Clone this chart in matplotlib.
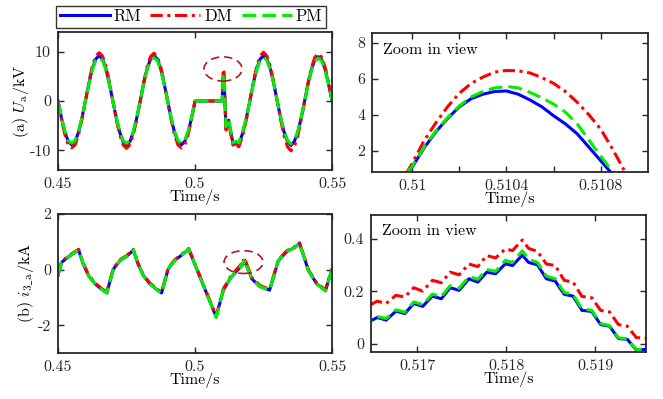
import numpy as np
import matplotlib
matplotlib.use('Agg')
import matplotlib.pyplot as plt
from matplotlib.patches import Ellipse
from matplotlib.lines import Line2D

plt.rcParams['font.family'] = ['cmr10', 'DejaVu Serif']
plt.rcParams['mathtext.fontset'] = 'cm'
plt.rcParams['axes.unicode_minus'] = False
plt.rcParams['axes.formatter.use_mathtext'] = True

# ---------------- voltage U_a (kV) ----------------
# before the fault, sampled every 1.25 ms
t_pre = np.linspace(0.45, 0.50, 41)
u_rm_pre = [0, -3.4, -6.3, -8.2, -8.9, -8.2, -6.3, -3.4, 0,
            3.5, 6.5, 8.5, 9.2, 8.5, 6.5, 3.5, 0,
            -3.4, -6.3, -8.2, -9.0, -8.2, -6.3, -3.4, 0,
            3.5, 6.5, 8.5, 9.2, 8.5, 6.5, 3.5, 0,
            -3.4, -6.3, -8.2, -8.9, -8.2, -6.3, -3.4, 0]
u_dm_pre = [0, -3.7, -6.8, -8.9, -9.5, -8.9, -6.8, -3.7, 0,
            3.8, 7.0, 9.1, 9.8, 9.1, 7.0, 3.8, 0,
            -3.7, -6.8, -8.9, -9.6, -8.9, -6.8, -3.7, 0,
            3.8, 6.9, 9.0, 9.7, 9.0, 6.9, 3.8, 0,
            -3.7, -6.8, -8.9, -9.5, -8.9, -6.8, -3.7, 0]
u_pm_pre = [0, -3.3, -6.1, -8.0, -8.6, -8.0, -6.1, -3.3, 0,
            3.4, 6.3, 8.2, 8.8, 8.2, 6.3, 3.4, 0,
            -3.3, -6.1, -8.0, -8.6, -8.0, -6.1, -3.3, 0,
            3.4, 6.3, 8.2, 8.8, 8.2, 6.3, 3.4, 0,
            -3.3, -6.1, -8.0, -8.6, -8.0, -6.1, -3.3, 0]

# reclosing spike
t_spk = [0.50995, 0.50998, 0.51000, 0.51005, 0.51010, 0.51015, 0.51020,
         0.51025, 0.51030, 0.51035, 0.51040, 0.51045, 0.51050, 0.51055,
         0.51060, 0.51065, 0.51070, 0.51075, 0.51080, 0.51085, 0.51090,
         0.51095]
u_rm_spk = [0, 0.75, 1.1, 2.15, 3.05, 3.8, 4.45, 4.9, 5.15, 5.3, 5.33, 5.15,
            4.83, 4.45, 3.95, 3.5, 2.95, 2.2, 1.45, 0.7, -0.1, -0.9]
u_dm_spk = [0, 0.85, 1.3, 2.55, 3.55, 4.45, 5.2, 5.75, 6.1, 6.38, 6.47, 6.45,
            6.33, 6.07, 5.75, 5.3, 4.7, 4.0, 3.2, 2.1, 0.9, -0.3]
u_pm_spk = [0, 0.8, 1.15, 2.2, 3.1, 3.85, 4.5, 5.0, 5.3, 5.5, 5.58, 5.5,
            5.25, 4.95, 4.6, 4.15, 3.5, 2.6, 1.7, 0.85, -0.05, -0.85]

# after the spike
t_post = np.concatenate([[0.5113, 0.5123, 0.5130, 0.5140, 0.5150, 0.5160],
                         np.linspace(0.5175, 0.55, 27)])
u_rm_post = [-5.5, -3.9, -6.2, -8.9, -8.4, -8.8,
             -6.3, -3.4, 0, 3.5, 6.5, 8.5, 9.2, 8.5, 6.5, 3.5, 0,
             -3.4, -6.3, -8.2, -9.0, -8.2, -6.3, -3.4, 0,
             3.5, 6.4, 8.4, 9.0, 8.4, 6.4, 3.4, 0]
u_dm_post = [-5.9, -4.2, -6.6, -9.3, -8.8, -9.3,
             -6.8, -3.7, 0, 3.8, 7.0, 9.1, 9.9, 9.1, 7.0, 3.8, 0,
             -3.8, -7.1, -9.3, -10.1, -9.3, -7.1, -3.8, 0,
             3.7, 6.8, 8.9, 9.6, 8.9, 6.8, 3.7, 0]
u_pm_post = [-5.2, -3.6, -6.0, -8.5, -8.2, -8.5,
             -6.0, -3.3, 0, 3.4, 6.3, 8.2, 8.9, 8.2, 6.3, 3.4, 0,
             -3.3, -6.2, -8.0, -8.7, -8.0, -6.2, -3.3, 0,
             3.3, 6.2, 8.1, 8.7, 8.1, 6.2, 3.3, 0]

# ---------------- current i_3_a (kA) ----------------
t_ia = [0.4500, 0.4513, 0.4538, 0.4562, 0.4575, 0.4592, 0.4611, 0.4635,
        0.4658, 0.4678, 0.4702, 0.4726, 0.4751, 0.4775, 0.4792, 0.4811,
        0.4835, 0.4858, 0.4878, 0.4902, 0.4926, 0.4951, 0.4977, 0.5077,
        0.5103, 0.5128, 0.5152]
i_rm_a = [-0.21, 0.26, 0.46, 0.62, 0.70, 0.20, -0.21, -0.51, -0.70, -0.84,
          0.02, 0.32, 0.48, 0.70, 0.20, -0.21, -0.51, -0.70, -0.84, 0.02,
          0.33, 0.52, 0.73, -1.70, -0.75, -0.33, -0.05]
i_dm_a = [-0.18, 0.29, 0.49, 0.65, 0.73, 0.23, -0.18, -0.48, -0.67, -0.81,
          0.05, 0.35, 0.51, 0.73, 0.23, -0.18, -0.48, -0.67, -0.81, 0.05,
          0.36, 0.55, 0.76, -1.67, -0.70, -0.28, 0.01]
i_pm_a = [-0.21, 0.26, 0.46, 0.63, 0.71, 0.21, -0.21, -0.51, -0.70, -0.85,
          0.02, 0.32, 0.48, 0.71, 0.21, -0.21, -0.51, -0.70, -0.85, 0.02,
          0.33, 0.52, 0.74, -1.72, -0.75, -0.33, -0.05]

# switching ripple around the small peak
t_iz = [0.51645, 0.51655, 0.51665, 0.51676, 0.51686, 0.51696, 0.51706,
        0.51717, 0.51727, 0.51737, 0.51747, 0.51758, 0.51768, 0.51778,
        0.51788, 0.51799, 0.51807, 0.51818, 0.51825, 0.51835, 0.51845,
        0.51855, 0.51865, 0.51875, 0.51885, 0.51896, 0.51906, 0.51916,
        0.51926, 0.51936, 0.51946, 0.51958, 0.51968]
i_rm_z = [0.083, 0.101, 0.091, 0.125, 0.116, 0.154, 0.143, 0.182, 0.172,
          0.214, 0.204, 0.248, 0.235, 0.273, 0.267, 0.305, 0.298, 0.338,
          0.310, 0.301, 0.248, 0.239, 0.189, 0.182, 0.128, 0.124, 0.074,
          0.068, 0.021, 0.018, -0.022, -0.020, -0.045]
i_dm_z = [0.145, 0.163, 0.154, 0.185, 0.179, 0.214, 0.201, 0.242, 0.233,
          0.273, 0.263, 0.304, 0.294, 0.336, 0.327, 0.361, 0.355, 0.395,
          0.363, 0.352, 0.304, 0.298, 0.242, 0.235, 0.181, 0.176, 0.128,
          0.122, 0.074, 0.068, 0.025, 0.021, 0.000]
i_pm_z = [0.085, 0.105, 0.097, 0.130, 0.121, 0.160, 0.150, 0.190, 0.180,
          0.222, 0.212, 0.256, 0.246, 0.283, 0.276, 0.318, 0.310, 0.354,
          0.322, 0.310, 0.258, 0.248, 0.196, 0.188, 0.134, 0.128, 0.078,
          0.070, 0.024, 0.019, -0.020, -0.020, -0.045]

t_ib = [0.5207, 0.5237, 0.5272, 0.5304, 0.5335, 0.5365, 0.5381, 0.5398,
        0.5414, 0.5444, 0.5476, 0.5493, 0.5500]
i_rm_b = [-0.33, -0.61, -0.74, 0.32, 0.65, 0.80, 0.94, 0.45, -0.04, -0.51,
          -0.76, -0.21, 0.0]
i_dm_b = [-0.28, -0.57, -0.71, 0.35, 0.68, 0.83, 0.97, 0.48, -0.01, -0.48,
          -0.73, -0.18, 0.03]
i_pm_b = [-0.33, -0.61, -0.74, 0.32, 0.65, 0.80, 0.95, 0.45, -0.04, -0.51,
          -0.77, -0.21, 0.0]

t_u = np.concatenate([t_pre, t_spk, t_post])
u = {'RM': np.concatenate([u_rm_pre, u_rm_spk, u_rm_post]),
     'DM': np.concatenate([u_dm_pre, u_dm_spk, u_dm_post]),
     'PM': np.concatenate([u_pm_pre, u_pm_spk, u_pm_post])}
t_i = np.concatenate([t_ia, t_iz, t_ib])
cur = {'RM': np.concatenate([i_rm_a, i_rm_z, i_rm_b]),
       'DM': np.concatenate([i_dm_a, i_dm_z, i_dm_b]),
       'PM': np.concatenate([i_pm_a, i_pm_z, i_pm_b])}

styles = {'RM': dict(color='#0000FF', ls='-'),
          'DM': dict(color='#FF0000', ls=(0, (4, 1.5, 1, 1.5))),
          'PM': dict(color='#00EE00', ls=(0, (4.5, 2)))}
LW = 2.2
FS = 11.5
dark = '#262626'

fig = plt.figure(figsize=(6.63, 3.99), dpi=100)
ax1 = fig.add_axes([0.0875, 0.5739, 0.4133, 0.3459])
ax2 = fig.add_axes([0.5611, 0.5689, 0.4163, 0.3484])
ax3 = fig.add_axes([0.0875, 0.1153, 0.4133, 0.3484])
ax4 = fig.add_axes([0.5596, 0.1178, 0.4148, 0.3434])

for ax in (ax1, ax2):
    for k in ('RM', 'DM', 'PM'):
        ax.plot(t_u, u[k], lw=LW, **styles[k])
for ax in (ax3, ax4):
    for k in ('RM', 'DM', 'PM'):
        ax.plot(t_i, cur[k], lw=LW, **styles[k])

for ax in (ax1, ax2, ax3, ax4):
    ax.tick_params(direction='in', top=True, right=True, length=4,
                   width=1.0, colors=dark, labelsize=FS, pad=5)
    ax.tick_params(which='minor', direction='in', top=True, right=True,
                   length=4, width=1.0, colors=dark)
    for s in ax.spines.values():
        s.set_linewidth(1.3)
        s.set_color(dark)
    ax.set_xlabel('Time/s', fontsize=FS, color='black', labelpad=-1)

ax1.set_xlim(0.45, 0.55)
ax1.set_ylim(-14, 14)
ax1.set_xticks([0.45, 0.5, 0.55], ['0.45', '0.5', '0.55'])
ax1.set_yticks([-10, 0, 10], ['-10', '0', '10'])
ax1.set_ylabel(r'(a) $U_\mathrm{a}$/kV', fontsize=FS, labelpad=-1)

ax2.set_xlim(0.50983, 0.51100)
ax2.set_ylim(0.83, 8.55)
ax2.set_xticks([0.51, 0.5104, 0.5108], ['0.51', '0.5104', '0.5108'])
ax2.set_xticks([0.5102, 0.5106], minor=True)
ax2.set_yticks([2, 4, 6, 8], ['2', '4', '6', '8'])

ax3.set_xlim(0.45, 0.55)
ax3.set_ylim(-3, 2)
ax3.set_xticks([0.45, 0.5, 0.55], ['0.45', '0.5', '0.55'])
ax3.set_yticks([-2, 0, 2], ['-2', '0', '2'])
ax3.set_ylabel(r'(b) $i_{3\_\mathrm{a}}$/kA', fontsize=FS, labelpad=1)

ax4.set_xlim(0.51648, 0.51957)
ax4.set_ylim(-0.03, 0.49)
ax4.set_xticks([0.517, 0.518, 0.519], ['0.517', '0.518', '0.519'])
ax4.set_yticks([0, 0.2, 0.4], ['0', '0.2', '0.4'])

for ax in (ax2, ax4):
    ax.text(0.04, 0.88, 'Zoom in view', transform=ax.transAxes,
            fontsize=11.5, va='center', ha='left')

# circles marking the zoomed regions
ax1.add_patch(Ellipse((0.5102, 6.5), 0.0139, 4.9, fill=False,
                      edgecolor='#B81420', ls=(0, (5, 3)), lw=1.2, zorder=5))
ax3.add_patch(Ellipse((0.5177, 0.27), 0.0142, 0.82, fill=False,
                      edgecolor='#B81420', ls=(0, (5, 3)), lw=1.2, zorder=5))

handles = [Line2D([], [], lw=LW, **styles[k]) for k in ('RM', 'DM', 'PM')]
leg = fig.legend(handles, ['RM', 'DM', 'PM'], loc='center',
                 bbox_to_anchor=(0.288, 0.9586), ncol=3, fontsize=12,
                 frameon=True, fancybox=False, handlelength=3.0,
                 handletextpad=0.25, columnspacing=0.55, borderpad=0.2,
                 borderaxespad=0)
leg.get_frame().set_edgecolor('black')
leg.get_frame().set_linewidth(1.0)

fig.savefig('out.png', dpi=100)
